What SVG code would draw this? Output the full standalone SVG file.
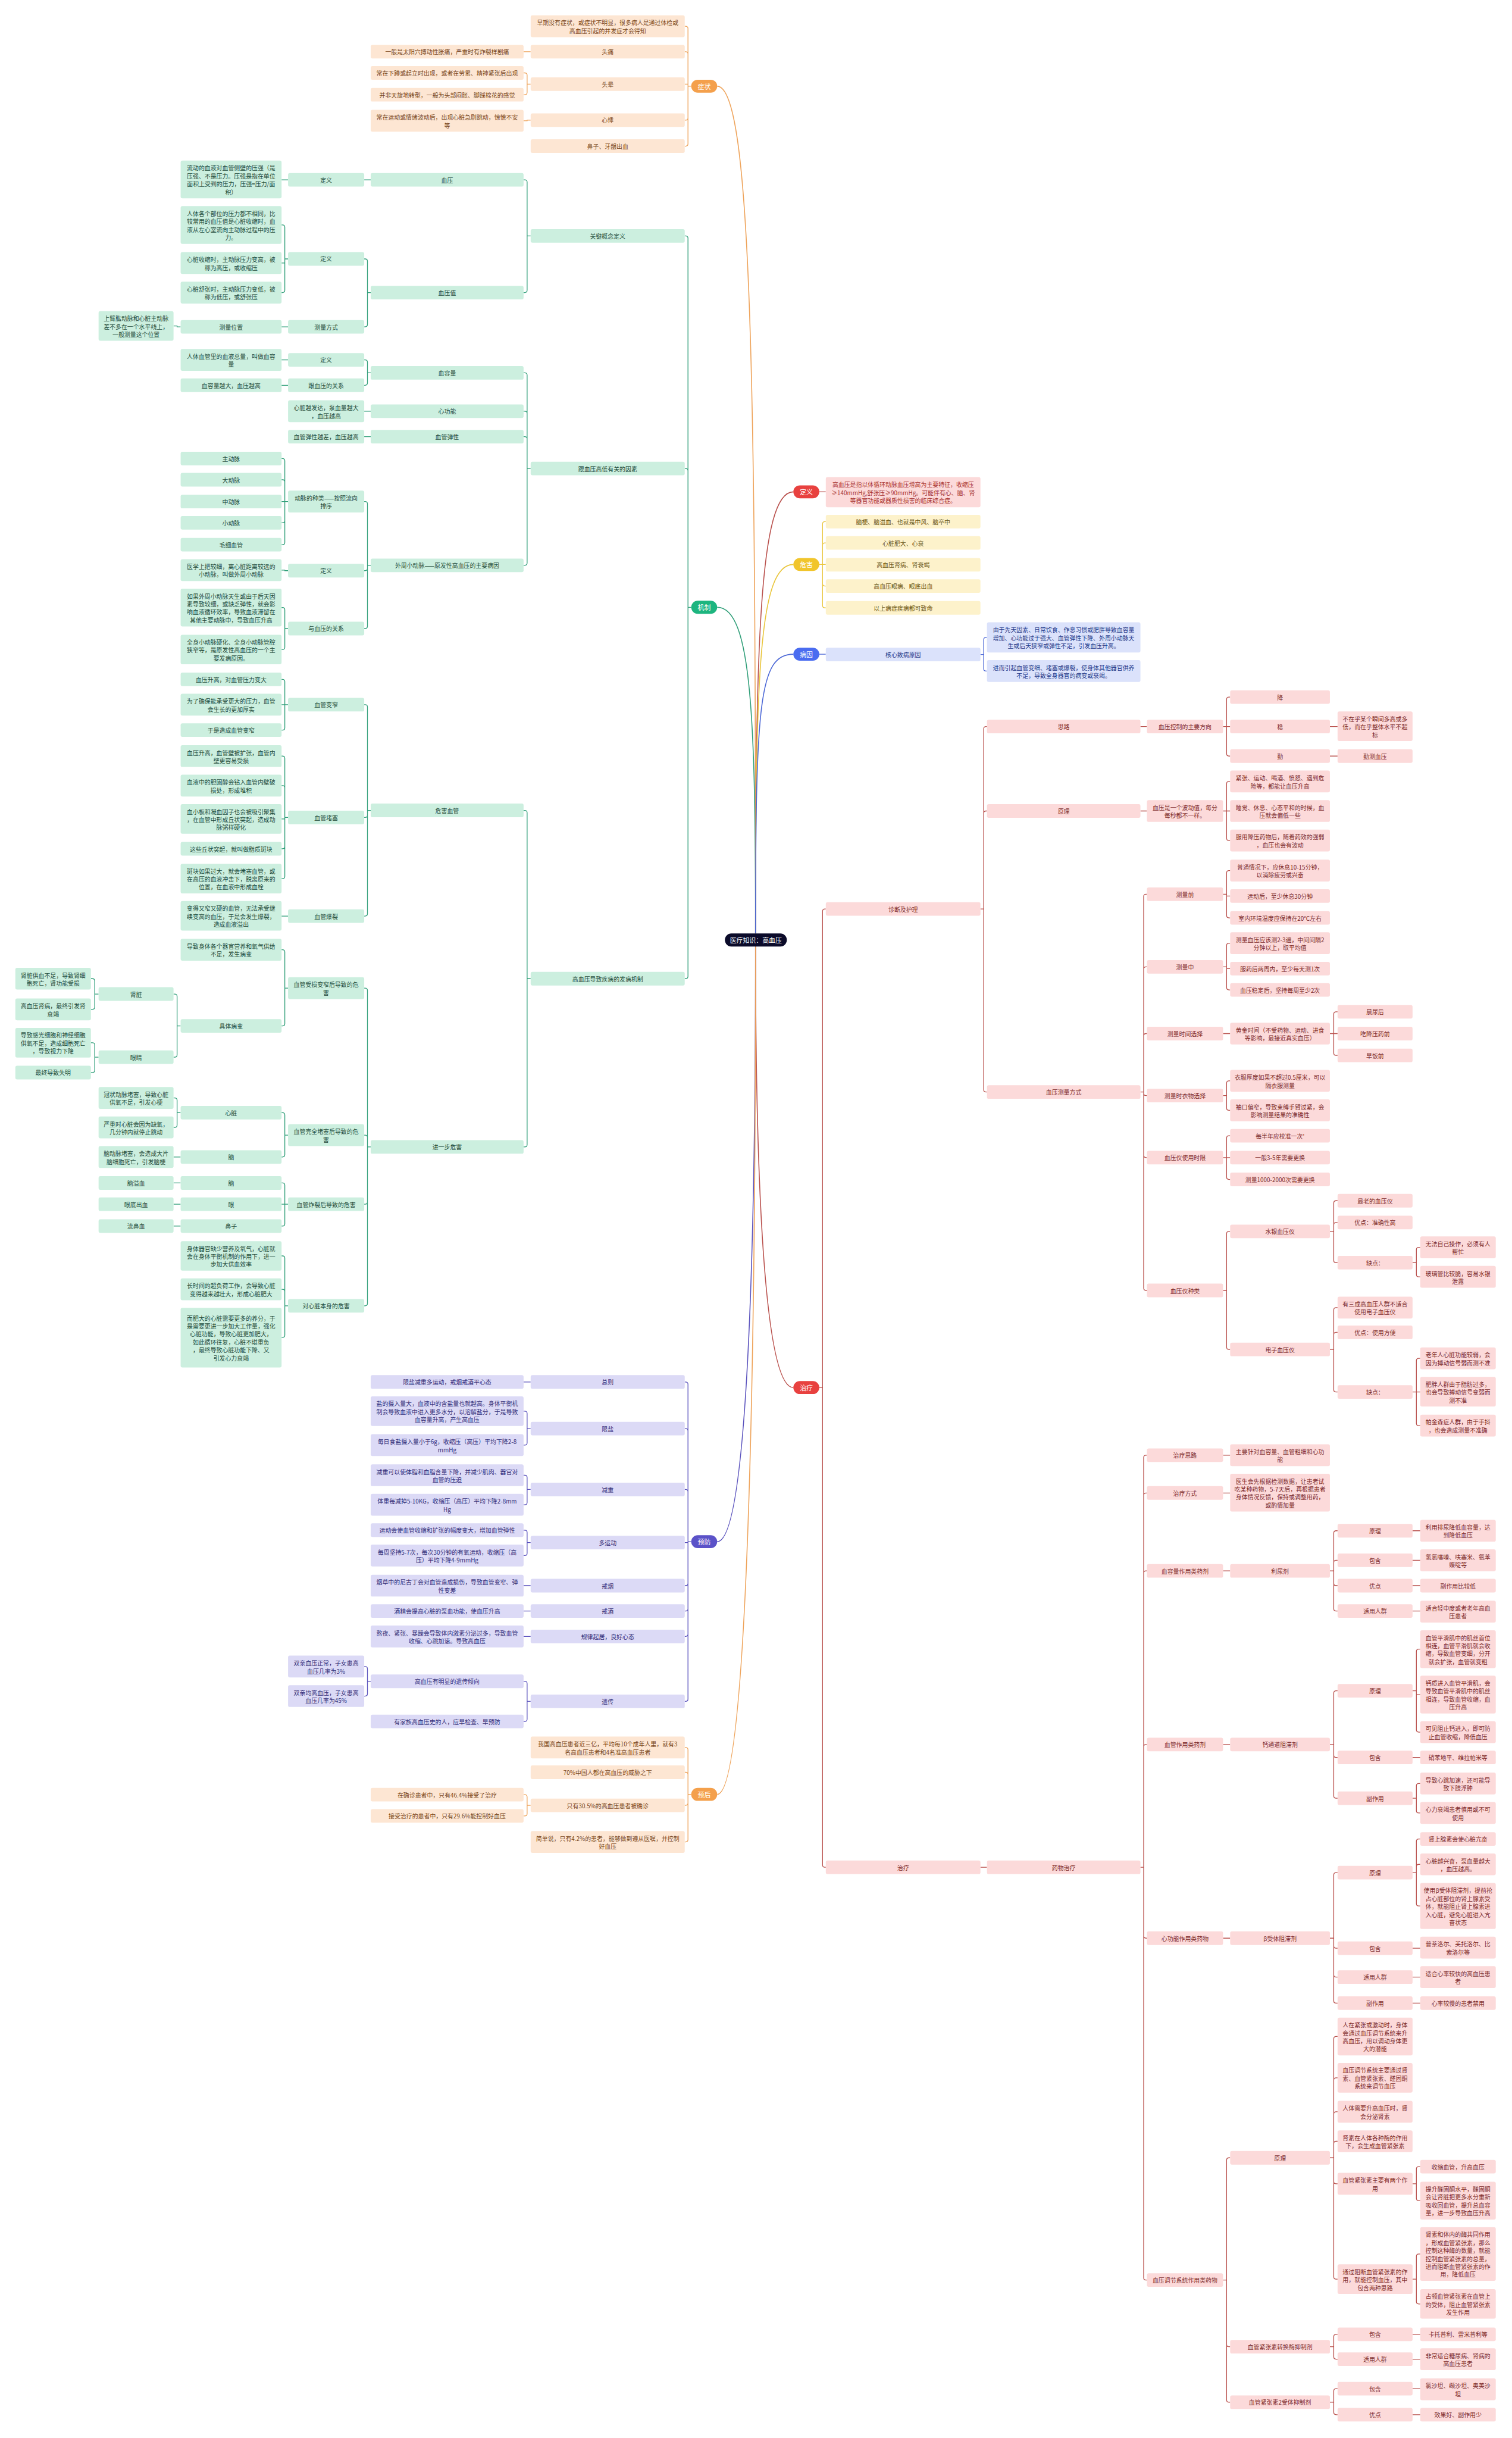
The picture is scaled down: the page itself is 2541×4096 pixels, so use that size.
<svg xmlns="http://www.w3.org/2000/svg" width="2541" height="4096" viewBox="0 0 2541 4096">
<style>
text{font-family:"Noto Sans CJK SC","Noto Sans",sans-serif;font-size:10px;text-anchor:middle;dominant-baseline:central}
rect{rx:3px;ry:3px}
.g rect{fill:#ccefdf}.g text{fill:#1d4b3b}
.o rect{fill:#fde6d3}.o text{fill:#7a4619}
.r rect{fill:#fcdada}.r text{fill:#7c2a2a}
.y rect{fill:#fdf2cb}.y text{fill:#6a5716}
.b rect{fill:#dbe2fb}.b text{fill:#24398a}
.p rect{fill:#dcdaf6}.p text{fill:#332e78}
.pill rect{rx:11px;ry:11px}.pill text{fill:#fff;font-size:11px}
.c{fill:none;stroke-width:1.3}
.m{fill:none;stroke-width:1.6}
.cg{stroke:#2f9e78}.co{stroke:#eea35a}.cr{stroke:#b9504c}.cy{stroke:#e9c53a}.cb{stroke:#4b67d6}.cp{stroke:#5a52bd}
</style>
<rect x="0" y="0" width="2541" height="4096" fill="#ffffff" style="rx:0"/>
<g transform="scale(0.992)">
<g id="connectors">
<path class="m co" d="M1280 1581C1280 648 1273 146 1215 146"/>
<path class="m cg" d="M1280 1581C1280 1222 1274 1028.5 1215 1028.5"/>
<path class="m cr" d="M1280 1581C1280 1095 1286 833 1344 833"/>
<path class="m cy" d="M1280 1581C1280 1138 1286 956 1344 956"/>
<path class="m cb" d="M1280 1581C1280 1190 1286 1108 1344 1108"/>
<path class="m cr" d="M1280 1603C1280 1864 1286 2350 1344 2350"/>
<path class="m cp" d="M1280 1603C1280 1956 1274 2611 1215 2611"/>
<path class="m co" d="M1280 1603C1280 2106 1274 3039 1215 3039"/>
<path class="c co" d="M1171 146H1165.5V48.5Q1165.5 44.5 1161.5 44.5H1160M1171 146H1165.5V91.5Q1165.5 87.5 1161.5 87.5H1160M1171 146H1165.5V142.5H1160M1171 146H1165.5V199.5Q1165.5 203.5 1161.5 203.5H1160M1171 146H1165.5V243.5Q1165.5 247.5 1161.5 247.5H1160M899 87.5H887M899 142.5H893V127.5Q893 123.5 889 123.5H887M899 142.5H893V156.5Q893 160.5 889 160.5H887M899 203.5H893V204.5H887"/>
<path class="c cg" d="M1171 1028.5H1165.5V403.5Q1165.5 399.5 1161.5 399.5H1160M1171 1028.5H1165.5V797.5Q1165.5 793.5 1161.5 793.5H1160M1171 1028.5H1165.5V1653.5Q1165.5 1657.5 1161.5 1657.5H1160M899 399.5H893V308.5Q893 304.5 889 304.5H887M899 399.5H893V491.5Q893 495.5 889 495.5H887M628 304.5H617M488 304.5H477M628 495.5H622.5V442.5Q622.5 438.5 618.5 438.5H617M628 495.5H622.5V549.5Q622.5 553.5 618.5 553.5H617M488 438.5H482.5V385Q482.5 381 478.5 381H477M488 438.5H482.5V445.5H477M488 438.5H482.5V491.5Q482.5 495.5 478.5 495.5H477M488 553.5H477M306 553.5H300V552H294M899 793.5H893V635.5Q893 631.5 889 631.5H887M899 793.5H893V700.5Q893 696.5 889 696.5H887M899 793.5H893V743.5Q893 739.5 889 739.5H887M899 793.5H893V953.5Q893 957.5 889 957.5H887M628 631.5H622.5V613.5Q622.5 609.5 618.5 609.5H617M628 631.5H622.5V648.5Q622.5 652.5 618.5 652.5H617M488 609.5H477M488 652.5H477M628 696.5H617M628 739.5H617M628 957.5H622.5V853.5Q622.5 849.5 618.5 849.5H617M628 957.5H622.5V962.5Q622.5 966.5 618.5 966.5H617M628 957.5H622.5V1060.5Q622.5 1064.5 618.5 1064.5H617M488 849.5H482.5V780.5Q482.5 776.5 478.5 776.5H477M488 849.5H482.5V816.5Q482.5 812.5 478.5 812.5H477M488 849.5H477M488 849.5H482.5V881.5Q482.5 885.5 478.5 885.5H477M488 849.5H482.5V918.5Q482.5 922.5 478.5 922.5H477M488 966.5H482.5V965.5H477M488 1064.5H482.5V1033Q482.5 1029 478.5 1029H477M488 1064.5H482.5V1096Q482.5 1100 478.5 1100H477M899 1657.5H893V1376.5Q893 1372.5 889 1372.5H887M899 1657.5H893V1938.5Q893 1942.5 889 1942.5H887M628 1372.5H622.5V1197.5Q622.5 1193.5 618.5 1193.5H617M628 1372.5H622.5V1380.5Q622.5 1384.5 618.5 1384.5H617M628 1372.5H622.5V1547.5Q622.5 1551.5 618.5 1551.5H617M488 1193.5H482.5V1154.5Q482.5 1150.5 478.5 1150.5H477M488 1193.5H477M488 1193.5H482.5V1232.5Q482.5 1236.5 478.5 1236.5H477M488 1384.5H482.5V1284.5Q482.5 1280.5 478.5 1280.5H477M488 1384.5H482.5V1334.5Q482.5 1330.5 478.5 1330.5H477M488 1384.5H482.5V1387H477M488 1384.5H482.5V1433.5Q482.5 1437.5 478.5 1437.5H477M488 1384.5H482.5V1484Q482.5 1488 478.5 1488H477M488 1551.5H477M628 1942.5H622.5V1677.5Q622.5 1673.5 618.5 1673.5H617M628 1942.5H622.5V1926.5Q622.5 1922.5 618.5 1922.5H617M628 1942.5H622.5V2035.5Q622.5 2039.5 618.5 2039.5H617M628 1942.5H622.5V2207.5Q622.5 2211.5 618.5 2211.5H617M488 1673.5H482.5V1612.5Q482.5 1608.5 478.5 1608.5H477M488 1673.5H482.5V1733.5Q482.5 1737.5 478.5 1737.5H477M306 1737.5H300V1687.5Q300 1683.5 296 1683.5H294M306 1737.5H300V1786.5Q300 1790.5 296 1790.5H294M167 1683.5H160.5V1661.5Q160.5 1657.5 156.5 1657.5H154M167 1683.5H160.5V1705.5Q160.5 1709.5 156.5 1709.5H154M167 1790.5H160.5V1770Q160.5 1766 156.5 1766H154M167 1790.5H160.5V1812.5Q160.5 1816.5 156.5 1816.5H154M488 1922.5H482.5V1888.5Q482.5 1884.5 478.5 1884.5H477M488 1922.5H482.5V1955.5Q482.5 1959.5 478.5 1959.5H477M306 1884.5H300V1863.5Q300 1859.5 296 1859.5H294M306 1884.5H300V1905.5Q300 1909.5 296 1909.5H294M306 1959.5H294M488 2039.5H482.5V2007.5Q482.5 2003.5 478.5 2003.5H477M488 2039.5H477M488 2039.5H482.5V2072.5Q482.5 2076.5 478.5 2076.5H477M306 2003.5H294M306 2039.5H294M306 2076.5H294M488 2211.5H482.5V2131Q482.5 2127 478.5 2127H477M488 2211.5H482.5V2187.5Q482.5 2183.5 478.5 2183.5H477M488 2211.5H482.5V2261Q482.5 2265 478.5 2265H477"/>
<path class="c cp" d="M1171 2611H1165.5V2344.5Q1165.5 2340.5 1161.5 2340.5H1160M1171 2611H1165.5V2423.5Q1165.5 2419.5 1161.5 2419.5H1160M1171 2611H1165.5V2526.5Q1165.5 2522.5 1161.5 2522.5H1160M1171 2611H1165.5V2612.5H1160M1171 2611H1165.5V2681.5Q1165.5 2685.5 1161.5 2685.5H1160M1171 2611H1165.5V2724.5Q1165.5 2728.5 1161.5 2728.5H1160M1171 2611H1165.5V2767.5Q1165.5 2771.5 1161.5 2771.5H1160M1171 2611H1165.5V2877.5Q1165.5 2881.5 1161.5 2881.5H1160M899 2340.5H887M899 2419.5H893V2394Q893 2390 889 2390H887M899 2419.5H893V2443.5Q893 2447.5 889 2447.5H887M899 2522.5H893V2502.5Q893 2498.5 889 2498.5H887M899 2522.5H893V2544.5Q893 2548.5 889 2548.5H887M899 2612.5H893V2595.5Q893 2591.5 889 2591.5H887M899 2612.5H893V2630.5Q893 2634.5 889 2634.5H887M899 2685.5H887M899 2728.5H887M899 2771.5H887M899 2881.5H893V2851.5Q893 2847.5 889 2847.5H887M899 2881.5H893V2911.5Q893 2915.5 889 2915.5H887M628 2847.5H622.5V2826.5Q622.5 2822.5 618.5 2822.5H617M628 2847.5H622.5V2868.5Q622.5 2872.5 618.5 2872.5H617"/>
<path class="c co" d="M1171 3039H1165.5V2963.5Q1165.5 2959.5 1161.5 2959.5H1160M1171 3039H1165.5V3005.5Q1165.5 3001.5 1161.5 3001.5H1160M1171 3039H1165.5V3053.5Q1165.5 3057.5 1161.5 3057.5H1160M1171 3039H1165.5V3115.5Q1165.5 3119.5 1161.5 3119.5H1160M899 3057.5H893V3043.5Q893 3039.5 889 3039.5H887M899 3057.5H893V3071.5Q893 3075.5 889 3075.5H887"/>
<path class="c cr" d="M1388 833H1399"/>
<path class="c cy" d="M1388 956H1393.5V887.5Q1393.5 883.5 1397.5 883.5H1399M1388 956H1393.5V923.5Q1393.5 919.5 1397.5 919.5H1399M1388 956H1399M1388 956H1393.5V988.5Q1393.5 992.5 1397.5 992.5H1399M1388 956H1393.5V1025.5Q1393.5 1029.5 1397.5 1029.5H1399"/>
<path class="c cb" d="M1388 1108H1399M1661 1108.5H1666.5V1083.5Q1666.5 1079.5 1670.5 1079.5H1672M1661 1108.5H1666.5V1132.5Q1666.5 1136.5 1670.5 1136.5H1672"/>
<path class="c cr" d="M1388 2350H1393.5V1543.5Q1393.5 1539.5 1397.5 1539.5H1399M1388 2350H1393.5V3158.5Q1393.5 3162.5 1397.5 3162.5H1399M1661 1539.5H1666.5V1234.5Q1666.5 1230.5 1670.5 1230.5H1672M1661 1539.5H1666.5V1377.5Q1666.5 1373.5 1670.5 1373.5H1672M1661 1539.5H1666.5V1845.5Q1666.5 1849.5 1670.5 1849.5H1672M1932 1230.5H1943M2072 1230.5H2078V1184.5Q2078 1180.5 2082 1180.5H2084M2072 1230.5H2084M2072 1230.5H2078V1276.5Q2078 1280.5 2082 1280.5H2084M2253 1230.5H2266M2253 1280.5H2266M1932 1373.5H1943M2072 1373.5H2078V1327.5Q2078 1323.5 2082 1323.5H2084M2072 1373.5H2084M2072 1373.5H2078V1419.5Q2078 1423.5 2082 1423.5H2084M1932 1849.5H1937.5V1518.5Q1937.5 1514.5 1941.5 1514.5H1943M1932 1849.5H1937.5V1641.5Q1937.5 1637.5 1941.5 1637.5H1943M1932 1849.5H1937.5V1754.5Q1937.5 1750.5 1941.5 1750.5H1943M1932 1849.5H1937.5V1851.5Q1937.5 1855.5 1941.5 1855.5H1943M1932 1849.5H1937.5V1956.5Q1937.5 1960.5 1941.5 1960.5H1943M1932 1849.5H1937.5V2181.5Q1937.5 2185.5 1941.5 2185.5H1943M2072 1514.5H2078V1478.5Q2078 1474.5 2082 1474.5H2084M2072 1514.5H2078V1517.5H2084M2072 1514.5H2078V1550.5Q2078 1554.5 2082 1554.5H2084M2072 1637.5H2078V1601.5Q2078 1597.5 2082 1597.5H2084M2072 1637.5H2078V1640.5H2084M2072 1637.5H2078V1672.5Q2078 1676.5 2082 1676.5H2084M2072 1750.5H2084M2253 1750.5H2259.5V1717.5Q2259.5 1713.5 2263.5 1713.5H2266M2253 1750.5H2266M2253 1750.5H2259.5V1783.5Q2259.5 1787.5 2263.5 1787.5H2266M2072 1855.5H2078V1834.5Q2078 1830.5 2082 1830.5H2084M2072 1855.5H2078V1876.5Q2078 1880.5 2082 1880.5H2084M2072 1960.5H2078V1927.5Q2078 1923.5 2082 1923.5H2084M2072 1960.5H2084M2072 1960.5H2078V1993.5Q2078 1997.5 2082 1997.5H2084M2072 2185.5H2078V2089.5Q2078 2085.5 2082 2085.5H2084M2072 2185.5H2078V2281.5Q2078 2285.5 2082 2285.5H2084M2253 2085.5H2259.5V2037.5Q2259.5 2033.5 2263.5 2033.5H2266M2253 2085.5H2259.5V2074.5Q2259.5 2070.5 2263.5 2070.5H2266M2253 2085.5H2259.5V2134.5Q2259.5 2138.5 2263.5 2138.5H2266M2393 2138.5H2399.5V2116.5Q2399.5 2112.5 2403.5 2112.5H2406M2393 2138.5H2399.5V2158.5Q2399.5 2162.5 2403.5 2162.5H2406M2253 2285.5H2259.5V2218.5Q2259.5 2214.5 2263.5 2214.5H2266M2253 2285.5H2259.5V2260.5Q2259.5 2256.5 2263.5 2256.5H2266M2253 2285.5H2259.5V2353.5Q2259.5 2357.5 2263.5 2357.5H2266M2393 2357.5H2399.5V2304.5Q2399.5 2300.5 2403.5 2300.5H2406M2393 2357.5H2406M2393 2357.5H2399.5V2410.5Q2399.5 2414.5 2403.5 2414.5H2406"/>
<path class="c cr" d="M1661 3162.5H1672M1932 3162.5H1937.5V2468.5Q1937.5 2464.5 1941.5 2464.5H1943M1932 3162.5H1937.5V2532.5Q1937.5 2528.5 1941.5 2528.5H1943M1932 3162.5H1937.5V2664.5Q1937.5 2660.5 1941.5 2660.5H1943M1932 3162.5H1937.5V2958.5Q1937.5 2954.5 1941.5 2954.5H1943M1932 3162.5H1937.5V3278.5Q1937.5 3282.5 1941.5 3282.5H1943M1932 3162.5H1937.5V3857.5Q1937.5 3861.5 1941.5 3861.5H1943M2072 2464.5H2084M2072 2528.5H2084M2072 2660.5H2084M2253 2660.5H2259.5V2596.5Q2259.5 2592.5 2263.5 2592.5H2266M2253 2660.5H2259.5V2646.5Q2259.5 2642.5 2263.5 2642.5H2266M2253 2660.5H2259.5V2681.5Q2259.5 2685.5 2263.5 2685.5H2266M2253 2660.5H2259.5V2724.5Q2259.5 2728.5 2263.5 2728.5H2266M2393 2592.5H2406M2393 2642.5H2406M2393 2685.5H2406M2393 2728.5H2406M2072 2954.5H2084M2253 2954.5H2259.5V2867.5Q2259.5 2863.5 2263.5 2863.5H2266M2253 2954.5H2259.5V2972.5Q2259.5 2976.5 2263.5 2976.5H2266M2253 2954.5H2259.5V3041.5Q2259.5 3045.5 2263.5 3045.5H2266M2393 2863.5H2399.5V2797Q2399.5 2793 2403.5 2793H2406M2393 2863.5H2399.5V2870H2406M2393 2863.5H2399.5V2929.5Q2399.5 2933.5 2403.5 2933.5H2406M2393 2976.5H2406M2393 3045.5H2399.5V3024.5Q2399.5 3020.5 2403.5 3020.5H2406M2393 3045.5H2399.5V3066.5Q2399.5 3070.5 2403.5 3070.5H2406M2072 3282.5H2084M2253 3282.5H2259.5V3175.5Q2259.5 3171.5 2263.5 3171.5H2266M2253 3282.5H2259.5V3295.5Q2259.5 3299.5 2263.5 3299.5H2266M2253 3282.5H2259.5V3344.5Q2259.5 3348.5 2263.5 3348.5H2266M2253 3282.5H2259.5V3388.5Q2259.5 3392.5 2263.5 3392.5H2266M2393 3171.5H2399.5V3118.5Q2399.5 3114.5 2403.5 3114.5H2406M2393 3171.5H2399.5V3161.5Q2399.5 3157.5 2403.5 3157.5H2406M2393 3171.5H2399.5V3224Q2399.5 3228 2403.5 3228H2406M2393 3299.5H2406M2393 3348.5H2406M2393 3392.5H2406M2072 3861.5H2078V3658.5Q2078 3654.5 2082 3654.5H2084M2072 3861.5H2078V3970.5Q2078 3974.5 2082 3974.5H2084M2072 3861.5H2078V4064.5Q2078 4068.5 2082 4068.5H2084M2253 3654.5H2259.5V3453Q2259.5 3449 2263.5 3449H2266M2253 3654.5H2259.5V3523Q2259.5 3519 2263.5 3519H2266M2253 3654.5H2259.5V3580.5Q2259.5 3576.5 2263.5 3576.5H2266M2253 3654.5H2259.5V3630.5Q2259.5 3626.5 2263.5 3626.5H2266M2253 3654.5H2259.5V3694.5Q2259.5 3698.5 2263.5 3698.5H2266M2253 3654.5H2259.5V3856Q2259.5 3860 2263.5 3860H2266M2393 3698.5H2399.5V3673.5Q2399.5 3669.5 2403.5 3669.5H2406M2393 3698.5H2399.5V3723Q2399.5 3727 2403.5 3727H2406M2393 3860H2399.5V3821.5Q2399.5 3817.5 2403.5 3817.5H2406M2393 3860H2399.5V3898Q2399.5 3902 2403.5 3902H2406M2253 3974.5H2259.5V3957.5Q2259.5 3953.5 2263.5 3953.5H2266M2253 3974.5H2259.5V3991.5Q2259.5 3995.5 2263.5 3995.5H2266M2393 3953.5H2406M2393 3995.5H2406M2253 4068.5H2259.5V4049.5Q2259.5 4045.5 2263.5 4045.5H2266M2253 4068.5H2259.5V4085.5Q2259.5 4089.5 2263.5 4089.5H2266M2393 4045.5H2406M2393 4089.5H2406"/>
</g>

<g id="center"><rect x="1228" y="1581" width="105" height="22" style="rx:11px;ry:11px" fill="#0b0b2a"/><text x="1280.5" y="1592" fill="#fff" style="font-size:11px">医疗知识：高血压</text></g>

<g id="pill-zz" class="pill"><rect x="1171" y="135" width="44" height="22" fill="#f4a04c"/><text x="1193" y="146">症状</text></g>
<g id="pill-jz" class="pill"><rect x="1171" y="1017.5" width="44" height="22" fill="#1db57f"/><text x="1193" y="1028.5">机制</text></g>
<g id="pill-dy" class="pill"><rect x="1344" y="822" width="44" height="22" fill="#e8413f"/><text x="1366" y="833">定义</text></g>
<g id="pill-wh" class="pill"><rect x="1344" y="945" width="44" height="22" fill="#f1c52c"/><text x="1366" y="956">危害</text></g>
<g id="pill-by" class="pill"><rect x="1344" y="1097" width="44" height="22" fill="#4a6cf0"/><text x="1366" y="1108">病因</text></g>
<g id="pill-zl" class="pill"><rect x="1344" y="2339" width="44" height="22" fill="#e8413f"/><text x="1366" y="2350">治疗</text></g>
<g id="pill-yf" class="pill"><rect x="1171" y="2600" width="44" height="22" fill="#5b52c8"/><text x="1193" y="2611">预防</text></g>
<g id="pill-yh" class="pill"><rect x="1171" y="3028" width="44" height="22" fill="#f4a04c"/><text x="1193" y="3039">预后</text></g>

<g id="o1" class="o"><rect x="899" y="26" width="261" height="37"/><text><tspan x="1029.5" y="37.75">早期没有症状，或症状不明显，很多病人是通过体检或</tspan><tspan x="1029.5" y="51.25">高血压引起的并发症才会得知</tspan></text></g>
<g id="o2" class="o"><rect x="899" y="76" width="261" height="23"/><text x="1029.5" y="87.5">头痛</text></g>
<g id="o3" class="o"><rect x="899" y="131" width="261" height="23"/><text x="1029.5" y="142.5">头晕</text></g>
<g id="o4" class="o"><rect x="899" y="192" width="261" height="23"/><text x="1029.5" y="203.5">心悸</text></g>
<g id="o5" class="o"><rect x="899" y="236" width="261" height="23"/><text x="1029.5" y="247.5">鼻子、牙龈出血</text></g>
<g id="o2a" class="o"><rect x="628" y="76" width="259" height="23"/><text x="757.5" y="87.5">一般是太阳穴搏动性胀痛，严重时有炸裂样剧痛</text></g>
<g id="o3a" class="o"><rect x="628" y="112" width="259" height="23"/><text x="757.5" y="123.5">常在下蹲或起立时出现，或者在劳累、精神紧张后出现</text></g>
<g id="o3b" class="o"><rect x="628" y="149" width="259" height="23"/><text x="757.5" y="160.5">并非天旋地转型，一般为头部闷胀、脚踩棉花的感觉</text></g>
<g id="o4a" class="o"><rect x="628" y="186" width="259" height="37"/><text><tspan x="757.5" y="197.75">常在运动或情绪波动后，出现心脏急剧跳动，惊慌不安</tspan><tspan x="757.5" y="211.25">等</tspan></text></g>

<g id="g1" class="g"><rect x="899" y="388" width="261" height="23"/><text x="1029.5" y="399.5">关键概念定义</text></g>
<g id="g2" class="g"><rect x="899" y="782" width="261" height="23"/><text x="1029.5" y="793.5">跟血压高低有关的因素</text></g>
<g id="g3" class="g"><rect x="899" y="1646" width="261" height="23"/><text x="1029.5" y="1657.5">高血压导致疾病的发病机制</text></g>
<g id="g1a" class="g"><rect x="628" y="293" width="259" height="23"/><text x="757.5" y="304.5">血压</text></g>
<g id="g1b" class="g"><rect x="628" y="484" width="259" height="23"/><text x="757.5" y="495.5">血压值</text></g>
<g id="g1a1" class="g"><rect x="488" y="293" width="129" height="23"/><text x="552.5" y="304.5">定义</text></g>
<g id="g1a1t" class="g"><rect x="306" y="272" width="171" height="64"/><text><tspan x="391.5" y="283.75">流动的血液对血管侧壁的压强（是</tspan><tspan x="391.5" y="297.25">压强、不是压力。压强是指在单位</tspan><tspan x="391.5" y="310.75">面积上受到的压力，压强=压力/面</tspan><tspan x="391.5" y="324.25">积）</tspan></text></g>
<g id="g1b1" class="g"><rect x="488" y="427" width="129" height="23"/><text x="552.5" y="438.5">定义</text></g>
<g id="g1b1a" class="g"><rect x="306" y="349" width="171" height="64"/><text><tspan x="391.5" y="360.75">人体各个部位的压力都不相同，比</tspan><tspan x="391.5" y="374.25">较常用的血压值是心脏收缩时，血</tspan><tspan x="391.5" y="387.75">液从左心室流向主动脉过程中的压</tspan><tspan x="391.5" y="401.25">力。</tspan></text></g>
<g id="g1b1b" class="g"><rect x="306" y="427" width="171" height="37"/><text><tspan x="391.5" y="438.75">心脏收缩时，主动脉压力变高，被</tspan><tspan x="391.5" y="452.25">称为高压，或收缩压</tspan></text></g>
<g id="g1b1c" class="g"><rect x="306" y="477" width="171" height="37"/><text><tspan x="391.5" y="488.75">心脏舒张时，主动脉压力变低，被</tspan><tspan x="391.5" y="502.25">称为低压，或舒张压</tspan></text></g>
<g id="g1b2" class="g"><rect x="488" y="542" width="129" height="23"/><text x="552.5" y="553.5">测量方式</text></g>
<g id="g1b2a" class="g"><rect x="306" y="542" width="171" height="23"/><text x="391.5" y="553.5">测量位置</text></g>
<g id="g1b2a1" class="g"><rect x="167" y="527" width="127" height="50"/><text><tspan x="230.5" y="538.5">上臂肱动脉和心脏主动脉</tspan><tspan x="230.5" y="552">差不多在一个水平线上，</tspan><tspan x="230.5" y="565.5">一般测量这个位置</tspan></text></g>
<g id="g2a" class="g"><rect x="628" y="620" width="259" height="23"/><text x="757.5" y="631.5">血容量</text></g>
<g id="g2a1" class="g"><rect x="488" y="598" width="129" height="23"/><text x="552.5" y="609.5">定义</text></g>
<g id="g2a1t" class="g"><rect x="306" y="591" width="171" height="37"/><text><tspan x="391.5" y="602.75">人体血管里的血液总量，叫做血容</tspan><tspan x="391.5" y="616.25">量</tspan></text></g>
<g id="g2a2" class="g"><rect x="488" y="641" width="129" height="23"/><text x="552.5" y="652.5">跟血压的关系</text></g>
<g id="g2a2t" class="g"><rect x="306" y="641" width="171" height="23"/><text x="391.5" y="652.5">血容量越大，血压越高</text></g>
<g id="g2b" class="g"><rect x="628" y="685" width="259" height="23"/><text x="757.5" y="696.5">心功能</text></g>
<g id="g2bt" class="g"><rect x="488" y="678" width="129" height="37"/><text><tspan x="552.5" y="689.75">心脏越发达，泵血量越大</tspan><tspan x="552.5" y="703.25">，血压越高</tspan></text></g>
<g id="g2c" class="g"><rect x="628" y="728" width="259" height="23"/><text x="757.5" y="739.5">血管弹性</text></g>
<g id="g2ct" class="g"><rect x="488" y="728" width="129" height="23"/><text x="552.5" y="739.5">血管弹性越差，血压越高</text></g>
<g id="g2d" class="g"><rect x="628" y="946" width="259" height="23"/><text x="757.5" y="957.5">外周小动脉——原发性高血压的主要病因</text></g>
<g id="g2d1" class="g"><rect x="488" y="831" width="129" height="37"/><text><tspan x="552.5" y="842.75">动脉的种类——按照流向</tspan><tspan x="552.5" y="856.25">排序</tspan></text></g>
<g id="g2d1a" class="g"><rect x="306" y="765" width="171" height="23"/><text x="391.5" y="776.5">主动脉</text></g>
<g id="g2d1b" class="g"><rect x="306" y="801" width="171" height="23"/><text x="391.5" y="812.5">大动脉</text></g>
<g id="g2d1c" class="g"><rect x="306" y="838" width="171" height="23"/><text x="391.5" y="849.5">中动脉</text></g>
<g id="g2d1d" class="g"><rect x="306" y="874" width="171" height="23"/><text x="391.5" y="885.5">小动脉</text></g>
<g id="g2d1e" class="g"><rect x="306" y="911" width="171" height="23"/><text x="391.5" y="922.5">毛细血管</text></g>
<g id="g2d2" class="g"><rect x="488" y="955" width="129" height="23"/><text x="552.5" y="966.5">定义</text></g>
<g id="g2d2t" class="g"><rect x="306" y="947" width="171" height="37"/><text><tspan x="391.5" y="958.75">医学上把较细，离心脏距离较远的</tspan><tspan x="391.5" y="972.25">小动脉，叫做外周小动脉</tspan></text></g>
<g id="g2d3" class="g"><rect x="488" y="1053" width="129" height="23"/><text x="552.5" y="1064.5">与血压的关系</text></g>
<g id="g2d3a" class="g"><rect x="306" y="997" width="171" height="64"/><text><tspan x="391.5" y="1008.75">如果外周小动脉天生或由于后天因</tspan><tspan x="391.5" y="1022.25">素导致较细，或缺乏弹性，就会影</tspan><tspan x="391.5" y="1035.75">响血液循环效率，导致血液滞留在</tspan><tspan x="391.5" y="1049.25">其他主要动脉中，导致血压升高</tspan></text></g>
<g id="g2d3b" class="g"><rect x="306" y="1075" width="171" height="50"/><text><tspan x="391.5" y="1086.5">全身小动脉硬化、全身小动脉管腔</tspan><tspan x="391.5" y="1100">狭窄等，是原发性高血压的一个主</tspan><tspan x="391.5" y="1113.5">要发病原因。</tspan></text></g>
<g id="g3a" class="g"><rect x="628" y="1361" width="259" height="23"/><text x="757.5" y="1372.5">危害血管</text></g>
<g id="g3a1" class="g"><rect x="488" y="1182" width="129" height="23"/><text x="552.5" y="1193.5">血管变窄</text></g>
<g id="g3a1a" class="g"><rect x="306" y="1139" width="171" height="23"/><text x="391.5" y="1150.5">血压升高，对血管压力变大</text></g>
<g id="g3a1b" class="g"><rect x="306" y="1175" width="171" height="37"/><text><tspan x="391.5" y="1186.75">为了确保能承受更大的压力，血管</tspan><tspan x="391.5" y="1200.25">会生长的更加厚实</tspan></text></g>
<g id="g3a1c" class="g"><rect x="306" y="1225" width="171" height="23"/><text x="391.5" y="1236.5">于是造成血管变窄</text></g>
<g id="g3a2" class="g"><rect x="488" y="1373" width="129" height="23"/><text x="552.5" y="1384.5">血管堵塞</text></g>
<g id="g3a2a" class="g"><rect x="306" y="1262" width="171" height="37"/><text><tspan x="391.5" y="1273.75">血压升高，血管壁被扩张，血管内</tspan><tspan x="391.5" y="1287.25">壁更容易受损</tspan></text></g>
<g id="g3a2b" class="g"><rect x="306" y="1312" width="171" height="37"/><text><tspan x="391.5" y="1323.75">血液中的胆固醇会钻入血管内壁破</tspan><tspan x="391.5" y="1337.25">损处，形成堆积</tspan></text></g>
<g id="g3a2c" class="g"><rect x="306" y="1362" width="171" height="50"/><text><tspan x="391.5" y="1373.5">血小板和凝血因子也会被吸引聚集</tspan><tspan x="391.5" y="1387">，在血管中形成丘状突起，造成动</tspan><tspan x="391.5" y="1400.5">脉粥样硬化</tspan></text></g>
<g id="g3a2d" class="g"><rect x="306" y="1426" width="171" height="23"/><text x="391.5" y="1437.5">这些丘状突起，就叫做脂质斑块</text></g>
<g id="g3a2e" class="g"><rect x="306" y="1463" width="171" height="50"/><text><tspan x="391.5" y="1474.5">斑块如果过大，就会堵塞血管，或</tspan><tspan x="391.5" y="1488">在高压的血液冲击下，脱离原来的</tspan><tspan x="391.5" y="1501.5">位置，在血液中形成血栓</tspan></text></g>
<g id="g3a3" class="g"><rect x="488" y="1540" width="129" height="23"/><text x="552.5" y="1551.5">血管爆裂</text></g>
<g id="g3a3a" class="g"><rect x="306" y="1526" width="171" height="50"/><text><tspan x="391.5" y="1537.5">变得又窄又硬的血管，无法承受继</tspan><tspan x="391.5" y="1551">续变高的血压，于是会发生爆裂，</tspan><tspan x="391.5" y="1564.5">造成血液溢出</tspan></text></g>
<g id="g3b" class="g"><rect x="628" y="1931" width="259" height="23"/><text x="757.5" y="1942.5">进一步危害</text></g>
<g id="g3b1" class="g"><rect x="488" y="1655" width="129" height="37"/><text><tspan x="552.5" y="1666.75">血管受损变窄后导致的危</tspan><tspan x="552.5" y="1680.25">害</tspan></text></g>
<g id="g3b1a" class="g"><rect x="306" y="1590" width="171" height="37"/><text><tspan x="391.5" y="1601.75">导致身体各个器官营养和氧气供给</tspan><tspan x="391.5" y="1615.25">不足，发生病变</tspan></text></g>
<g id="g3b1b" class="g"><rect x="306" y="1726" width="171" height="23"/><text x="391.5" y="1737.5">具体病变</text></g>
<g id="g3b1b1" class="g"><rect x="167" y="1672" width="127" height="23"/><text x="230.5" y="1683.5">肾脏</text></g>
<g id="g3b1b1a" class="g"><rect x="26" y="1639" width="128" height="37"/><text><tspan x="90" y="1650.75">肾脏供血不足，导致肾细</tspan><tspan x="90" y="1664.25">胞死亡，肾功能受损</tspan></text></g>
<g id="g3b1b1b" class="g"><rect x="26" y="1691" width="128" height="37"/><text><tspan x="90" y="1702.75">高血压肾病，最终引发肾</tspan><tspan x="90" y="1716.25">衰竭</tspan></text></g>
<g id="g3b1b2" class="g"><rect x="167" y="1779" width="127" height="23"/><text x="230.5" y="1790.5">眼睛</text></g>
<g id="g3b1b2a" class="g"><rect x="26" y="1741" width="128" height="50"/><text><tspan x="90" y="1752.5">导致感光细胞和神经细胞</tspan><tspan x="90" y="1766">供氧不足，造成细胞死亡</tspan><tspan x="90" y="1779.5">，导致视力下降</tspan></text></g>
<g id="g3b1b2b" class="g"><rect x="26" y="1805" width="128" height="23"/><text x="90" y="1816.5">最终导致失明</text></g>
<g id="g3b2" class="g"><rect x="488" y="1904" width="129" height="37"/><text><tspan x="552.5" y="1915.75">血管完全堵塞后导致的危</tspan><tspan x="552.5" y="1929.25">害</tspan></text></g>
<g id="g3b2a" class="g"><rect x="306" y="1873" width="171" height="23"/><text x="391.5" y="1884.5">心脏</text></g>
<g id="g3b2a1" class="g"><rect x="167" y="1841" width="127" height="37"/><text><tspan x="230.5" y="1852.75">冠状动脉堵塞，导致心脏</tspan><tspan x="230.5" y="1866.25">供氧不足，引发心梗</tspan></text></g>
<g id="g3b2a2" class="g"><rect x="167" y="1891" width="127" height="37"/><text><tspan x="230.5" y="1902.75">严重时心脏会因为缺氧，</tspan><tspan x="230.5" y="1916.25">几分钟内就停止跳动</tspan></text></g>
<g id="g3b2b" class="g"><rect x="306" y="1948" width="171" height="23"/><text x="391.5" y="1959.5">脑</text></g>
<g id="g3b2b1" class="g"><rect x="167" y="1941" width="127" height="37"/><text><tspan x="230.5" y="1952.75">脑动脉堵塞，会造成大片</tspan><tspan x="230.5" y="1966.25">脑细胞死亡，引发脑梗</tspan></text></g>
<g id="g3b3" class="g"><rect x="488" y="2028" width="129" height="23"/><text x="552.5" y="2039.5">血管炸裂后导致的危害</text></g>
<g id="g3b3a" class="g"><rect x="306" y="1992" width="171" height="23"/><text x="391.5" y="2003.5">脑</text></g>
<g id="g3b3b" class="g"><rect x="306" y="2028" width="171" height="23"/><text x="391.5" y="2039.5">眼</text></g>
<g id="g3b3c" class="g"><rect x="306" y="2065" width="171" height="23"/><text x="391.5" y="2076.5">鼻子</text></g>
<g id="g3b3a1" class="g"><rect x="167" y="1992" width="127" height="23"/><text x="230.5" y="2003.5">脑溢血</text></g>
<g id="g3b3b1" class="g"><rect x="167" y="2028" width="127" height="23"/><text x="230.5" y="2039.5">眼底出血</text></g>
<g id="g3b3c1" class="g"><rect x="167" y="2065" width="127" height="23"/><text x="230.5" y="2076.5">流鼻血</text></g>
<g id="g3b4" class="g"><rect x="488" y="2200" width="129" height="23"/><text x="552.5" y="2211.5">对心脏本身的危害</text></g>
<g id="g3b4a" class="g"><rect x="306" y="2102" width="171" height="50"/><text><tspan x="391.5" y="2113.5">身体器官缺少营养及氧气，心脏就</tspan><tspan x="391.5" y="2127">会在身体平衡机制的作用下，进一</tspan><tspan x="391.5" y="2140.5">步加大供血效率</tspan></text></g>
<g id="g3b4b" class="g"><rect x="306" y="2165" width="171" height="37"/><text><tspan x="391.5" y="2176.75">长时间的超负荷工作，会导致心脏</tspan><tspan x="391.5" y="2190.25">变得越来越壮大，形成心脏肥大</tspan></text></g>
<g id="g3b4c" class="g"><rect x="306" y="2215" width="171" height="101"/><text><tspan x="391.5" y="2231.5">而肥大的心脏需要更多的养分，于</tspan><tspan x="391.5" y="2245">是需要更进一步加大工作量，强化</tspan><tspan x="391.5" y="2258.5">心脏功能，导致心脏更加肥大，</tspan><tspan x="391.5" y="2272">如此循环往复，心脏不堪重负</tspan><tspan x="391.5" y="2285.5">，最终导致心脏功能下降、又</tspan><tspan x="391.5" y="2299">引发心力衰竭</tspan></text></g>

<g id="p1" class="p"><rect x="899" y="2329" width="261" height="23"/><text x="1029.5" y="2340.5">总则</text></g>
<g id="p1a" class="p"><rect x="628" y="2329" width="259" height="23"/><text x="757.5" y="2340.5">限盐减重多运动，戒烟戒酒平心态</text></g>
<g id="p2" class="p"><rect x="899" y="2408" width="261" height="23"/><text x="1029.5" y="2419.5">限盐</text></g>
<g id="p2a" class="p"><rect x="628" y="2365" width="259" height="50"/><text><tspan x="757.5" y="2376.5">盐的摄入量大，血液中的含盐量也就越高。身体平衡机</tspan><tspan x="757.5" y="2390">制会导致血液中进入更多水分，以溶解盐分，于是导致</tspan><tspan x="757.5" y="2403.5">血容量升高，产生高血压</tspan></text></g>
<g id="p2b" class="p"><rect x="628" y="2429" width="259" height="37"/><text><tspan x="757.5" y="2440.75">每日食盐摄入量小于6g，收缩压（高压）平均下降2-8</tspan><tspan x="757.5" y="2454.25">mmHg</tspan></text></g>
<g id="p3" class="p"><rect x="899" y="2511" width="261" height="23"/><text x="1029.5" y="2522.5">减重</text></g>
<g id="p3a" class="p"><rect x="628" y="2480" width="259" height="37"/><text><tspan x="757.5" y="2491.75">减重可以使体脂和血脂含量下降，并减少肌肉、器官对</tspan><tspan x="757.5" y="2505.25">血管的压迫</tspan></text></g>
<g id="p3b" class="p"><rect x="628" y="2530" width="259" height="37"/><text><tspan x="757.5" y="2541.75">体重每减掉5-10KG，收缩压（高压）平均下降2-8mm</tspan><tspan x="757.5" y="2555.25">Hg</tspan></text></g>
<g id="p4" class="p"><rect x="899" y="2601" width="261" height="23"/><text x="1029.5" y="2612.5">多运动</text></g>
<g id="p4a" class="p"><rect x="628" y="2580" width="259" height="23"/><text x="757.5" y="2591.5">运动会使血管收缩和扩张的幅度变大，增加血管弹性</text></g>
<g id="p4b" class="p"><rect x="628" y="2616" width="259" height="37"/><text><tspan x="757.5" y="2627.75">每周坚持5-7次，每次30分钟的有氧运动，收缩压（高</tspan><tspan x="757.5" y="2641.25">压）平均下降4-9mmHg</tspan></text></g>
<g id="p5" class="p"><rect x="899" y="2674" width="261" height="23"/><text x="1029.5" y="2685.5">戒烟</text></g>
<g id="p5a" class="p"><rect x="628" y="2667" width="259" height="37"/><text><tspan x="757.5" y="2678.75">烟草中的尼古丁会对血管造成损伤，导致血管变窄、弹</tspan><tspan x="757.5" y="2692.25">性变差</tspan></text></g>
<g id="p6" class="p"><rect x="899" y="2717" width="261" height="23"/><text x="1029.5" y="2728.5">戒酒</text></g>
<g id="p6a" class="p"><rect x="628" y="2717" width="259" height="23"/><text x="757.5" y="2728.5">酒精会提高心脏的泵血功能，使血压升高</text></g>
<g id="p7" class="p"><rect x="899" y="2760" width="261" height="23"/><text x="1029.5" y="2771.5">规律起居，良好心态</text></g>
<g id="p7a" class="p"><rect x="628" y="2753" width="259" height="37"/><text><tspan x="757.5" y="2764.75">熬夜、紧张、暴躁会导致体内激素分泌过多，导致血管</tspan><tspan x="757.5" y="2778.25">收缩、心跳加速。导致高血压</tspan></text></g>
<g id="p8" class="p"><rect x="899" y="2870" width="261" height="23"/><text x="1029.5" y="2881.5">遗传</text></g>
<g id="p8a" class="p"><rect x="628" y="2836" width="259" height="23"/><text x="757.5" y="2847.5">高血压有明显的遗传倾向</text></g>
<g id="p8a1" class="p"><rect x="488" y="2804" width="129" height="37"/><text><tspan x="552.5" y="2815.75">双亲血压正常，子女患高</tspan><tspan x="552.5" y="2829.25">血压几率为3%</tspan></text></g>
<g id="p8a2" class="p"><rect x="488" y="2854" width="129" height="37"/><text><tspan x="552.5" y="2865.75">双亲均高血压，子女患高</tspan><tspan x="552.5" y="2879.25">血压几率为45%</tspan></text></g>
<g id="p8b" class="p"><rect x="628" y="2904" width="259" height="23"/><text x="757.5" y="2915.5">有家族高血压史的人，应早检查、早预防</text></g>

<g id="q1" class="o"><rect x="899" y="2941" width="261" height="37"/><text><tspan x="1029.5" y="2952.75">我国高血压患者近三亿，平均每10个成年人里，就有3</tspan><tspan x="1029.5" y="2966.25">名高血压患者和4名准高血压患者</tspan></text></g>
<g id="q2" class="o"><rect x="899" y="2990" width="261" height="23"/><text x="1029.5" y="3001.5">70%中国人都在高血压的威胁之下</text></g>
<g id="q3" class="o"><rect x="899" y="3046" width="261" height="23"/><text x="1029.5" y="3057.5">只有30.5%的高血压患者被确诊</text></g>
<g id="q4" class="o"><rect x="899" y="3101" width="261" height="37"/><text><tspan x="1029.5" y="3112.75">简单说，只有4.2%的患者，能够做到遵从医嘱，并控制</tspan><tspan x="1029.5" y="3126.25">好血压</tspan></text></g>
<g id="q3a" class="o"><rect x="628" y="3028" width="259" height="23"/><text x="757.5" y="3039.5">在确诊患者中，只有46.4%接受了治疗</text></g>
<g id="q3b" class="o"><rect x="628" y="3064" width="259" height="23"/><text x="757.5" y="3075.5">接受治疗的患者中，只有29.6%能控制好血压</text></g>

<g id="d1" class="r"><rect x="1399" y="808" width="262" height="51"/><text style="fill:#a8322f"><tspan x="1530" y="820">高血压是指以体循环动脉血压增高为主要特征，收缩压</tspan><tspan x="1530" y="833.5">≥140mmHg,舒张压≥90mmHg。可能伴有心、脑、肾</tspan><tspan x="1530" y="847">等器官功能或器质性损害的临床综合症。</tspan></text></g>
<g id="y1" class="y"><rect x="1399" y="872" width="262" height="23"/><text x="1530" y="883.5">脑梗、脑溢血、也就是中风、脑卒中</text></g>
<g id="y2" class="y"><rect x="1399" y="908" width="262" height="23"/><text x="1530" y="919.5">心脏肥大、心衰</text></g>
<g id="y3" class="y"><rect x="1399" y="945" width="262" height="23"/><text x="1530" y="956.5">高血压肾病、肾衰竭</text></g>
<g id="y4" class="y"><rect x="1399" y="981" width="262" height="23"/><text x="1530" y="992.5">高血压眼病、眼底出血</text></g>
<g id="y5" class="y"><rect x="1399" y="1018" width="262" height="23"/><text x="1530" y="1029.5">以上病症疾病都可致命</text></g>
<g id="b1" class="b"><rect x="1399" y="1097" width="262" height="23"/><text x="1530" y="1108.5">核心致病原因</text></g>
<g id="b1a" class="b"><rect x="1672" y="1054" width="260" height="51"/><text><tspan x="1802" y="1066">由于先天因素、日常饮食、作息习惯或肥胖导致血容量</tspan><tspan x="1802" y="1079.5">增加、心功能过于强大、血管弹性下降、外周小动脉天</tspan><tspan x="1802" y="1093">生或后天狭窄或弹性不足，引发血压升高。</tspan></text></g>
<g id="b1b" class="b"><rect x="1672" y="1118" width="260" height="37"/><text><tspan x="1802" y="1129.75">进而引起血管变细、堵塞或爆裂，使身体其他器官供养</tspan><tspan x="1802" y="1143.25">不足，导致全身器官的病变或衰竭。</tspan></text></g>

<g id="r1" class="r"><rect x="1399" y="1528" width="262" height="23"/><text x="1530" y="1539.5">诊断及护理</text></g>
<g id="r2" class="r"><rect x="1399" y="3151" width="262" height="23"/><text x="1530" y="3162.5">治疗</text></g>
<g id="r1a" class="r"><rect x="1672" y="1219" width="260" height="23"/><text x="1802" y="1230.5">思路</text></g>
<g id="r1b" class="r"><rect x="1672" y="1362" width="260" height="23"/><text x="1802" y="1373.5">原理</text></g>
<g id="r1c" class="r"><rect x="1672" y="1838" width="260" height="23"/><text x="1802" y="1849.5">血压测量方式</text></g>
<g id="r2a" class="r"><rect x="1672" y="3151" width="260" height="23"/><text x="1802" y="3162.5">药物治疗</text></g>
<g id="r1a1" class="r"><rect x="1943" y="1219" width="129" height="23"/><text x="2007.5" y="1230.5">血压控制的主要方向</text></g>
<g id="r1a1a" class="r"><rect x="2084" y="1169" width="169" height="23"/><text x="2168.5" y="1180.5">降</text></g>
<g id="r1a1b" class="r"><rect x="2084" y="1219" width="169" height="23"/><text x="2168.5" y="1230.5">稳</text></g>
<g id="r1a1c" class="r"><rect x="2084" y="1269" width="169" height="23"/><text x="2168.5" y="1280.5">勤</text></g>
<g id="r1a1b1" class="r"><rect x="2266" y="1205" width="127" height="50"/><text><tspan x="2329.5" y="1216.5">不在乎某个瞬间多高或多</tspan><tspan x="2329.5" y="1230">低，而在乎整体水平不超</tspan><tspan x="2329.5" y="1243.5">标</tspan></text></g>
<g id="r1a1c1" class="r"><rect x="2266" y="1269" width="127" height="23"/><text x="2329.5" y="1280.5">勤测血压</text></g>
<g id="r1b1" class="r"><rect x="1943" y="1355" width="129" height="37"/><text><tspan x="2007.5" y="1366.75">血压是一个波动值，每分</tspan><tspan x="2007.5" y="1380.25">每秒都不一样。</tspan></text></g>
<g id="r1b1a" class="r"><rect x="2084" y="1305" width="169" height="37"/><text><tspan x="2168.5" y="1316.75">紧张、运动、喝酒、愤怒、遇到危</tspan><tspan x="2168.5" y="1330.25">险等，都能让血压升高</tspan></text></g>
<g id="r1b1b" class="r"><rect x="2084" y="1355" width="169" height="37"/><text><tspan x="2168.5" y="1366.75">睡觉、休息、心态平和的时候，血</tspan><tspan x="2168.5" y="1380.25">压就会偏低一些</tspan></text></g>
<g id="r1b1c" class="r"><rect x="2084" y="1405" width="169" height="37"/><text><tspan x="2168.5" y="1416.75">服用降压药物后，随着药效的强弱</tspan><tspan x="2168.5" y="1430.25">，血压也会有波动</tspan></text></g>
<g id="r1c1" class="r"><rect x="1943" y="1503" width="129" height="23"/><text x="2007.5" y="1514.5">测量前</text></g>
<g id="r1c1a" class="r"><rect x="2084" y="1456" width="169" height="37"/><text><tspan x="2168.5" y="1467.75">普通情况下，应休息10-15分钟，</tspan><tspan x="2168.5" y="1481.25">以消除疲劳或兴奋</tspan></text></g>
<g id="r1c1b" class="r"><rect x="2084" y="1506" width="169" height="23"/><text x="2168.5" y="1517.5">运动后，至少休息30分钟</text></g>
<g id="r1c1c" class="r"><rect x="2084" y="1543" width="169" height="23"/><text x="2168.5" y="1554.5">室内环境温度应保持在20℃左右</text></g>
<g id="r1c2" class="r"><rect x="1943" y="1626" width="129" height="23"/><text x="2007.5" y="1637.5">测量中</text></g>
<g id="r1c2a" class="r"><rect x="2084" y="1579" width="169" height="37"/><text><tspan x="2168.5" y="1590.75">测量血压应该测2-3遍，中间间隔2</tspan><tspan x="2168.5" y="1604.25">分钟以上，取平均值</tspan></text></g>
<g id="r1c2b" class="r"><rect x="2084" y="1629" width="169" height="23"/><text x="2168.5" y="1640.5">服药后两周内，至少每天测1次</text></g>
<g id="r1c2c" class="r"><rect x="2084" y="1665" width="169" height="23"/><text x="2168.5" y="1676.5">血压稳定后，坚持每周至少2次</text></g>
<g id="r1c3" class="r"><rect x="1943" y="1739" width="129" height="23"/><text x="2007.5" y="1750.5">测量时间选择</text></g>
<g id="r1c3a" class="r"><rect x="2084" y="1732" width="169" height="37"/><text><tspan x="2168.5" y="1743.75">黄金时间（不受药物、运动、进食</tspan><tspan x="2168.5" y="1757.25">等影响，最接近真实血压）</tspan></text></g>
<g id="r1c3a1" class="r"><rect x="2266" y="1702" width="127" height="23"/><text x="2329.5" y="1713.5">晨尿后</text></g>
<g id="r1c3a2" class="r"><rect x="2266" y="1739" width="127" height="23"/><text x="2329.5" y="1750.5">吃降压药前</text></g>
<g id="r1c3a3" class="r"><rect x="2266" y="1776" width="127" height="23"/><text x="2329.5" y="1787.5">早饭前</text></g>
<g id="r1c4" class="r"><rect x="1943" y="1844" width="129" height="23"/><text x="2007.5" y="1855.5">测量时衣物选择</text></g>
<g id="r1c4a" class="r"><rect x="2084" y="1812" width="169" height="37"/><text><tspan x="2168.5" y="1823.75">衣服厚度如果不超过0.5厘米，可以</tspan><tspan x="2168.5" y="1837.25">隔衣服测量</tspan></text></g>
<g id="r1c4b" class="r"><rect x="2084" y="1862" width="169" height="37"/><text><tspan x="2168.5" y="1873.75">袖口偏窄，导致束缚手臂过紧，会</tspan><tspan x="2168.5" y="1887.25">影响测量结果的准确性</tspan></text></g>
<g id="r1c5" class="r"><rect x="1943" y="1949" width="129" height="23"/><text x="2007.5" y="1960.5">血压仪使用时限</text></g>
<g id="r1c5a" class="r"><rect x="2084" y="1912" width="169" height="23"/><text x="2168.5" y="1923.5">每半年应校准一次'</text></g>
<g id="r1c5b" class="r"><rect x="2084" y="1949" width="169" height="23"/><text x="2168.5" y="1960.5">一般3-5年需要更换</text></g>
<g id="r1c5c" class="r"><rect x="2084" y="1986" width="169" height="23"/><text x="2168.5" y="1997.5">测量1000-2000次需要更换</text></g>
<g id="r1c6" class="r"><rect x="1943" y="2174" width="129" height="23"/><text x="2007.5" y="2185.5">血压仪种类</text></g>
<g id="r1c6a" class="r"><rect x="2084" y="2074" width="169" height="23"/><text x="2168.5" y="2085.5">水银血压仪</text></g>
<g id="r1c6a1" class="r"><rect x="2266" y="2022" width="127" height="23"/><text x="2329.5" y="2033.5">最老的血压仪</text></g>
<g id="r1c6a2" class="r"><rect x="2266" y="2059" width="127" height="23"/><text x="2329.5" y="2070.5">优点：准确性高</text></g>
<g id="r1c6a3" class="r"><rect x="2266" y="2127" width="127" height="23"/><text x="2329.5" y="2138.5">缺点：</text></g>
<g id="r1c6a3a" class="r"><rect x="2406" y="2094" width="128" height="37"/><text><tspan x="2470" y="2105.75">无法自己操作，必须有人</tspan><tspan x="2470" y="2119.25">帮忙</tspan></text></g>
<g id="r1c6a3b" class="r"><rect x="2406" y="2144" width="128" height="37"/><text><tspan x="2470" y="2155.75">玻璃管比较脆，容易水银</tspan><tspan x="2470" y="2169.25">泄露</tspan></text></g>
<g id="r1c6b" class="r"><rect x="2084" y="2274" width="169" height="23"/><text x="2168.5" y="2285.5">电子血压仪</text></g>
<g id="r1c6b1" class="r"><rect x="2266" y="2196" width="127" height="37"/><text><tspan x="2329.5" y="2207.75">有三成高血压人群不适合</tspan><tspan x="2329.5" y="2221.25">使用电子血压仪</tspan></text></g>
<g id="r1c6b2" class="r"><rect x="2266" y="2245" width="127" height="23"/><text x="2329.5" y="2256.5">优点：使用方便</text></g>
<g id="r1c6b3" class="r"><rect x="2266" y="2346" width="127" height="23"/><text x="2329.5" y="2357.5">缺点：</text></g>
<g id="r1c6b3a" class="r"><rect x="2406" y="2282" width="128" height="37"/><text><tspan x="2470" y="2293.75">老年人心脏功能较弱，会</tspan><tspan x="2470" y="2307.25">因为搏动信号弱而测不准</tspan></text></g>
<g id="r1c6b3b" class="r"><rect x="2406" y="2332" width="128" height="50"/><text><tspan x="2470" y="2343.5">肥胖人群由于脂肪过多，</tspan><tspan x="2470" y="2357">也会导致搏动信号变弱而</tspan><tspan x="2470" y="2370.5">测不准</tspan></text></g>
<g id="r1c6b3c" class="r"><rect x="2406" y="2396" width="128" height="37"/><text><tspan x="2470" y="2407.75">帕金森症人群，由于手抖</tspan><tspan x="2470" y="2421.25">，也会造成测量不准确</tspan></text></g>

<g id="t1" class="r"><rect x="1943" y="2453" width="129" height="23"/><text x="2007.5" y="2464.5">治疗思路</text></g>
<g id="t1a" class="r"><rect x="2084" y="2446" width="169" height="37"/><text><tspan x="2168.5" y="2457.75">主要针对血容量、血管粗细和心功</tspan><tspan x="2168.5" y="2471.25">能</tspan></text></g>
<g id="t2" class="r"><rect x="1943" y="2517" width="129" height="23"/><text x="2007.5" y="2528.5">治疗方式</text></g>
<g id="t2a" class="r"><rect x="2084" y="2496" width="169" height="64"/><text><tspan x="2168.5" y="2507.75">医生会先根据检测数据，让患者试</tspan><tspan x="2168.5" y="2521.25">吃某种药物，5-7天后，再根据患者</tspan><tspan x="2168.5" y="2534.75">身体情况反馈，保持或调整用药，</tspan><tspan x="2168.5" y="2548.25">或酌情加量</tspan></text></g>
<g id="t3" class="r"><rect x="1943" y="2649" width="129" height="23"/><text x="2007.5" y="2660.5">血容量作用类药剂</text></g>
<g id="t3a" class="r"><rect x="2084" y="2649" width="169" height="23"/><text x="2168.5" y="2660.5">利尿剂</text></g>
<g id="t3a1" class="r"><rect x="2266" y="2581" width="127" height="23"/><text x="2329.5" y="2592.5">原理</text></g>
<g id="t3a2" class="r"><rect x="2266" y="2631" width="127" height="23"/><text x="2329.5" y="2642.5">包含</text></g>
<g id="t3a3" class="r"><rect x="2266" y="2674" width="127" height="23"/><text x="2329.5" y="2685.5">优点</text></g>
<g id="t3a4" class="r"><rect x="2266" y="2717" width="127" height="23"/><text x="2329.5" y="2728.5">适用人群</text></g>
<g id="t3a1a" class="r"><rect x="2406" y="2574" width="128" height="37"/><text><tspan x="2470" y="2585.75">利用排尿降低血容量，达</tspan><tspan x="2470" y="2599.25">到降低血压</tspan></text></g>
<g id="t3a2a" class="r"><rect x="2406" y="2624" width="128" height="37"/><text><tspan x="2470" y="2635.75">氢氯噻嗪、呋塞米、氨苯</tspan><tspan x="2470" y="2649.25">蝶啶等</tspan></text></g>
<g id="t3a3a" class="r"><rect x="2406" y="2674" width="128" height="23"/><text x="2470" y="2685.5">副作用比较低</text></g>
<g id="t3a4a" class="r"><rect x="2406" y="2711" width="128" height="37"/><text><tspan x="2470" y="2722.75">适合轻中度或者老年高血</tspan><tspan x="2470" y="2736.25">压患者</tspan></text></g>
<g id="t4" class="r"><rect x="1943" y="2943" width="129" height="23"/><text x="2007.5" y="2954.5">血管作用类药剂</text></g>
<g id="t4a" class="r"><rect x="2084" y="2943" width="169" height="23"/><text x="2168.5" y="2954.5">钙通道阻滞剂</text></g>
<g id="t4a1" class="r"><rect x="2266" y="2852" width="127" height="23"/><text x="2329.5" y="2863.5">原理</text></g>
<g id="t4a2" class="r"><rect x="2266" y="2965" width="127" height="23"/><text x="2329.5" y="2976.5">包含</text></g>
<g id="t4a3" class="r"><rect x="2266" y="3034" width="127" height="23"/><text x="2329.5" y="3045.5">副作用</text></g>
<g id="t4a1a" class="r"><rect x="2406" y="2761" width="128" height="64"/><text><tspan x="2470" y="2772.75">血管平滑肌中的肌丝首位</tspan><tspan x="2470" y="2786.25">相连，血管平滑肌就会收</tspan><tspan x="2470" y="2799.75">缩，导致血管变细，分开</tspan><tspan x="2470" y="2813.25">就会扩张，血管就变粗</tspan></text></g>
<g id="t4a1b" class="r"><rect x="2406" y="2838" width="128" height="64"/><text><tspan x="2470" y="2849.75">钙质进入血管平滑肌，会</tspan><tspan x="2470" y="2863.25">导致血管平滑肌中的肌丝</tspan><tspan x="2470" y="2876.75">相连，导致血管收缩，血</tspan><tspan x="2470" y="2890.25">压升高</tspan></text></g>
<g id="t4a1c" class="r"><rect x="2406" y="2915" width="128" height="37"/><text><tspan x="2470" y="2926.75">可见阻止钙进入，即可防</tspan><tspan x="2470" y="2940.25">止血管收缩，降低血压</tspan></text></g>
<g id="t4a2a" class="r"><rect x="2406" y="2965" width="128" height="23"/><text x="2470" y="2976.5">硝苯地平、维拉帕米等</text></g>
<g id="t4a3a" class="r"><rect x="2406" y="3002" width="128" height="37"/><text><tspan x="2470" y="3013.75">导致心跳加速，还可能导</tspan><tspan x="2470" y="3027.25">致下肢浮肿</tspan></text></g>
<g id="t4a3b" class="r"><rect x="2406" y="3052" width="128" height="37"/><text><tspan x="2470" y="3063.75">心力衰竭患者慎用或不可</tspan><tspan x="2470" y="3077.25">使用</tspan></text></g>
<g id="t5" class="r"><rect x="1943" y="3271" width="129" height="23"/><text x="2007.5" y="3282.5">心功能作用类药物</text></g>
<g id="t5a" class="r"><rect x="2084" y="3271" width="169" height="23"/><text x="2168.5" y="3282.5">β受体阻滞剂</text></g>
<g id="t5a1" class="r"><rect x="2266" y="3160" width="127" height="23"/><text x="2329.5" y="3171.5">原理</text></g>
<g id="t5a2" class="r"><rect x="2266" y="3288" width="127" height="23"/><text x="2329.5" y="3299.5">包含</text></g>
<g id="t5a3" class="r"><rect x="2266" y="3337" width="127" height="23"/><text x="2329.5" y="3348.5">适用人群</text></g>
<g id="t5a4" class="r"><rect x="2266" y="3381" width="127" height="23"/><text x="2329.5" y="3392.5">副作用</text></g>
<g id="t5a1a" class="r"><rect x="2406" y="3103" width="128" height="23"/><text x="2470" y="3114.5">肾上腺素会使心脏亢奋</text></g>
<g id="t5a1b" class="r"><rect x="2406" y="3139" width="128" height="37"/><text><tspan x="2470" y="3150.75">心脏越兴奋，泵血量越大</tspan><tspan x="2470" y="3164.25">，血压越高。</tspan></text></g>
<g id="t5a1c" class="r"><rect x="2406" y="3189" width="128" height="78"/><text><tspan x="2470" y="3201">使用β受体阻滞剂，提前抢</tspan><tspan x="2470" y="3214.5">占心脏部位的肾上腺素受</tspan><tspan x="2470" y="3228">体，就能阻止肾上腺素进</tspan><tspan x="2470" y="3241.5">入心脏，避免心脏进入亢</tspan><tspan x="2470" y="3255">奋状态</tspan></text></g>
<g id="t5a2a" class="r"><rect x="2406" y="3280" width="128" height="37"/><text><tspan x="2470" y="3291.75">普萘洛尔、美托洛尔、比</tspan><tspan x="2470" y="3305.25">索洛尔等</tspan></text></g>
<g id="t5a3a" class="r"><rect x="2406" y="3330" width="128" height="37"/><text><tspan x="2470" y="3341.75">适合心率较快的高血压患</tspan><tspan x="2470" y="3355.25">者</tspan></text></g>
<g id="t5a4a" class="r"><rect x="2406" y="3381" width="128" height="23"/><text x="2470" y="3392.5">心率较慢的患者禁用</text></g>
<g id="t6" class="r"><rect x="1943" y="3850" width="129" height="23"/><text x="2007.5" y="3861.5">血压调节系统作用类药物</text></g>
<g id="t6a" class="r"><rect x="2084" y="3643" width="169" height="23"/><text x="2168.5" y="3654.5">原理</text></g>
<g id="t6a1" class="r"><rect x="2266" y="3417" width="127" height="64"/><text><tspan x="2329.5" y="3428.75">人在紧张或激动时，身体</tspan><tspan x="2329.5" y="3442.25">会通过血压调节系统来升</tspan><tspan x="2329.5" y="3455.75">高血压，用以调动身体更</tspan><tspan x="2329.5" y="3469.25">大的潜能</tspan></text></g>
<g id="t6a2" class="r"><rect x="2266" y="3494" width="127" height="50"/><text><tspan x="2329.5" y="3505.5">血压调节系统主要通过肾</tspan><tspan x="2329.5" y="3519">素、血管紧张素、醛固酮</tspan><tspan x="2329.5" y="3532.5">系统来调节血压</tspan></text></g>
<g id="t6a3" class="r"><rect x="2266" y="3558" width="127" height="37"/><text><tspan x="2329.5" y="3569.75">人体需要升高血压时，肾</tspan><tspan x="2329.5" y="3583.25">会分泌肾素</tspan></text></g>
<g id="t6a4" class="r"><rect x="2266" y="3608" width="127" height="37"/><text><tspan x="2329.5" y="3619.75">肾素在人体各种酶的作用</tspan><tspan x="2329.5" y="3633.25">下，会生成血管紧张素</tspan></text></g>
<g id="t6a5" class="r"><rect x="2266" y="3680" width="127" height="37"/><text><tspan x="2329.5" y="3691.75">血管紧张素主要有两个作</tspan><tspan x="2329.5" y="3705.25">用</tspan></text></g>
<g id="t6a5a" class="r"><rect x="2406" y="3658" width="128" height="23"/><text x="2470" y="3669.5">收缩血管，升高血压</text></g>
<g id="t6a5b" class="r"><rect x="2406" y="3695" width="128" height="64"/><text><tspan x="2470" y="3706.75">提升醛固酮水平，醛固酮</tspan><tspan x="2470" y="3720.25">会让肾脏把更多水分重新</tspan><tspan x="2470" y="3733.75">吸收回血管，提升总血容</tspan><tspan x="2470" y="3747.25">量，进一步导致血压升高</tspan></text></g>
<g id="t6a6" class="r"><rect x="2266" y="3835" width="127" height="50"/><text><tspan x="2329.5" y="3846.5">通过阻断血管紧张素的作</tspan><tspan x="2329.5" y="3860">用，就能控制血压，其中</tspan><tspan x="2329.5" y="3873.5">包含两种思路</tspan></text></g>
<g id="t6a6a" class="r"><rect x="2406" y="3772" width="128" height="91"/><text><tspan x="2470" y="3783.75">肾素和体内的酶共同作用</tspan><tspan x="2470" y="3797.25">，形成血管紧张素，那么</tspan><tspan x="2470" y="3810.75">控制这种酶的数量，就能</tspan><tspan x="2470" y="3824.25">控制血管紧张素的总量，</tspan><tspan x="2470" y="3837.75">进而阻断血管紧张素的作</tspan><tspan x="2470" y="3851.25">用，降低血压</tspan></text></g>
<g id="t6a6b" class="r"><rect x="2406" y="3877" width="128" height="50"/><text><tspan x="2470" y="3888.5">占领血管紧张素在血管上</tspan><tspan x="2470" y="3902">的受体，阻止血管紧张素</tspan><tspan x="2470" y="3915.5">发生作用</tspan></text></g>
<g id="t6b" class="r"><rect x="2084" y="3963" width="169" height="23"/><text x="2168.5" y="3974.5">血管紧张素转换酶抑制剂</text></g>
<g id="t6b1" class="r"><rect x="2266" y="3942" width="127" height="23"/><text x="2329.5" y="3953.5">包含</text></g>
<g id="t6b2" class="r"><rect x="2266" y="3984" width="127" height="23"/><text x="2329.5" y="3995.5">适用人群</text></g>
<g id="t6b1a" class="r"><rect x="2406" y="3942" width="128" height="23"/><text x="2470" y="3953.5">卡托普利、雷米普利等</text></g>
<g id="t6b2a" class="r"><rect x="2406" y="3977" width="128" height="37"/><text><tspan x="2470" y="3988.75">非常适合糖尿病、肾病的</tspan><tspan x="2470" y="4002.25">高血压患者</tspan></text></g>
<g id="t6c" class="r"><rect x="2084" y="4057" width="169" height="23"/><text x="2168.5" y="4068.5">血管紧张素2受体抑制剂</text></g>
<g id="t6c1" class="r"><rect x="2266" y="4034" width="127" height="23"/><text x="2329.5" y="4045.5">包含</text></g>
<g id="t6c2" class="r"><rect x="2266" y="4078" width="127" height="23"/><text x="2329.5" y="4089.5">优点</text></g>
<g id="t6c1a" class="r"><rect x="2406" y="4028" width="128" height="37"/><text><tspan x="2470" y="4039.75">氯沙坦、缬沙坦、奥美沙</tspan><tspan x="2470" y="4053.25">坦</tspan></text></g>
<g id="t6c2a" class="r"><rect x="2406" y="4078" width="128" height="23"/><text x="2470" y="4089.5">效果好、副作用少</text></g>
</g>
</svg>
